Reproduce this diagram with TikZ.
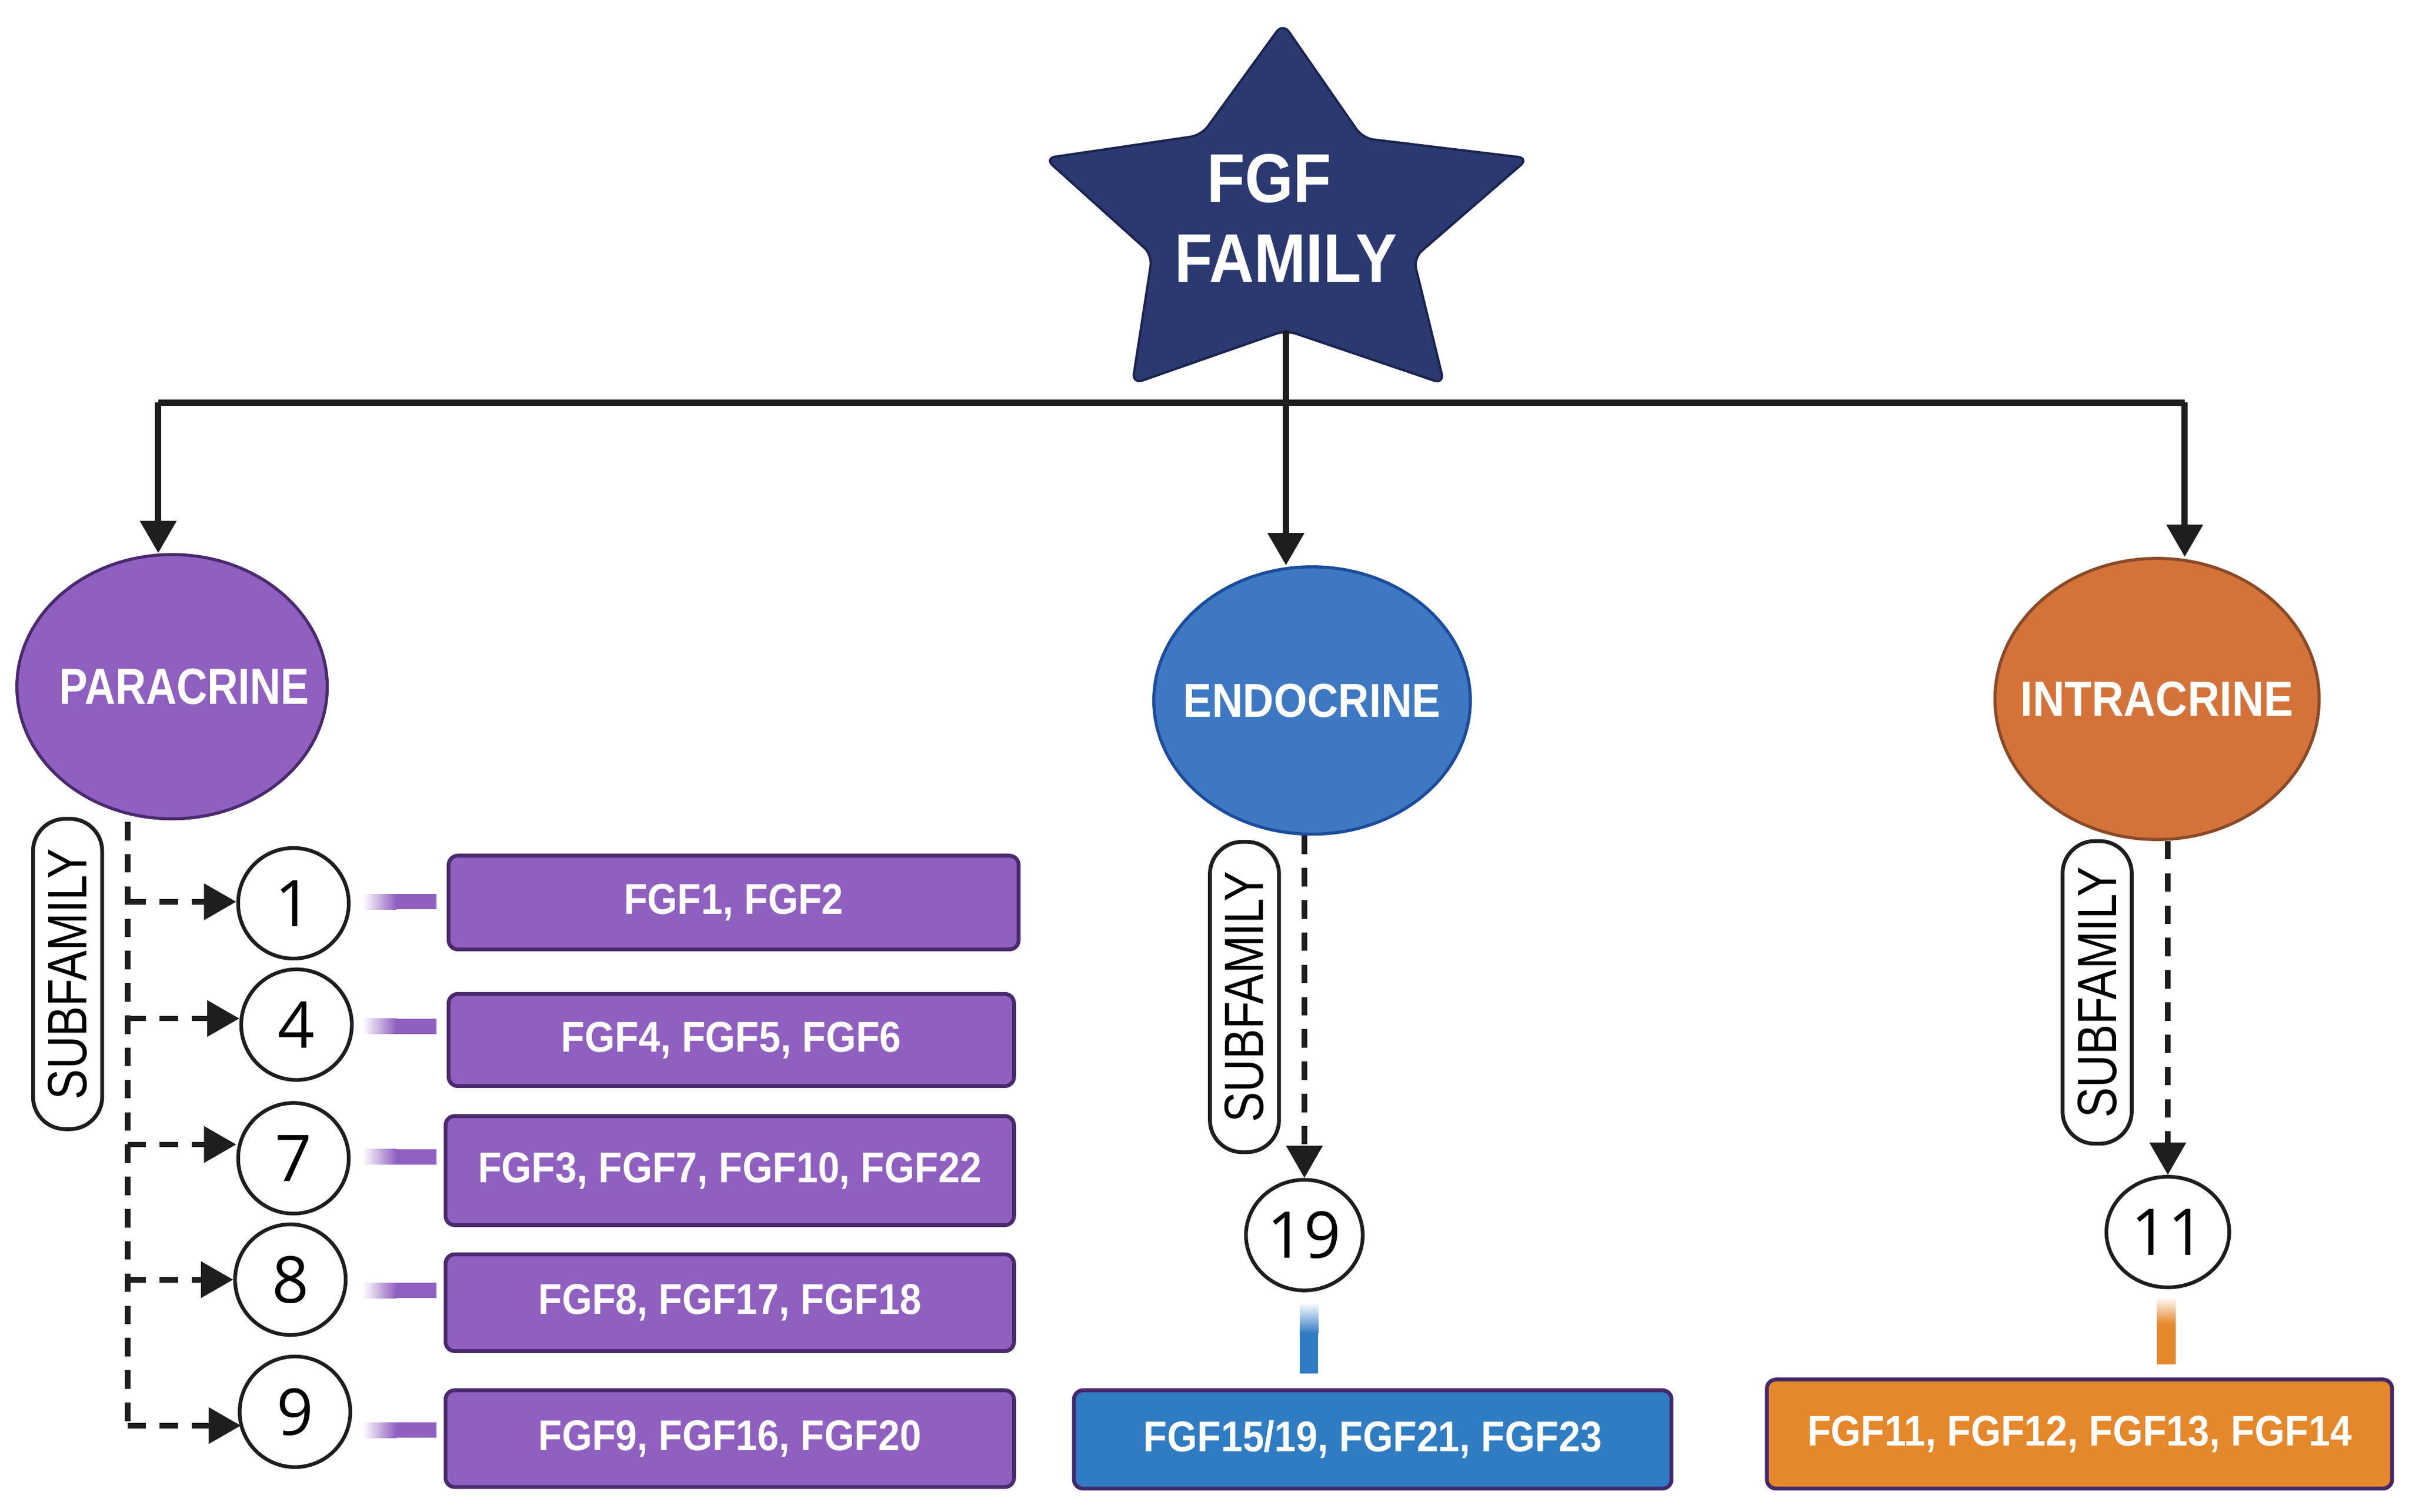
\documentclass[tikz,border=0pt]{standalone}
\usepackage{fontspec}
\setmainfont{Liberation Sans}
\newfontfamily\labA[FakeStretch=0.9]{Liberation Sans}
\newfontfamily\labP[FakeStretch=0.84]{Liberation Sans}
\newfontfamily\labS[FakeStretch=0.82]{Liberation Sans}
\newfontfamily\digfont{Open Sans}
\usetikzlibrary{arrows.meta,shapes.geometric,calc}
\definecolor{navy}{HTML}{2B3970}
\definecolor{navyd}{HTML}{1A2450}
\definecolor{ppl}{HTML}{8F60BF}
\definecolor{ppld}{HTML}{4A2A6E}
\definecolor{blu}{HTML}{3E78C2}
\definecolor{blud}{HTML}{1D4C9C}
\definecolor{bbox}{HTML}{2F7CC3}
\definecolor{org}{HTML}{D3733A}
\definecolor{orgd}{HTML}{8A4A28}
\definecolor{obox}{HTML}{E5872B}
\definecolor{boxd}{HTML}{44286C}
\definecolor{lk}{HTML}{1E1E1E}
\tikzset{
  mainline/.style={draw=lk, line width=4pt},
  mainarr/.style={mainline, -{Triangle[width=23pt,length=21pt]}},
  dashline/.style={draw=lk, line width=3.6pt, dash pattern=on 12pt off 9pt},
  dasharr/.style={dashline, -{Triangle[width=23pt,length=21pt]}},
  ell/.style={ellipse, inner sep=0pt, line width=2pt, text=white},
  pill/.style={draw=lk, fill=white, line width=2.5pt, rounded corners=21pt, rotate=90,
    inner sep=0pt, minimum height=45pt, font=\labS\fontsize{36}{36}\selectfont},
  numc/.style={ellipse, draw=lk, fill=white, line width=2.4pt, inner sep=0pt,
    font=\digfont\fontsize{42}{42}\selectfont},
  fbox/.style={rectangle, rounded corners=6pt, line width=2.5pt, draw=boxd, text=white,
    inner sep=0pt, font=\labA\bfseries\fontsize{28}{28}\selectfont},
  pbox/.style={fbox, fill=ppl, draw=ppld}
}
\begin{document}
\begin{tikzpicture}[x=1pt,y=-1pt,line join=round]
\useasboundingbox (0,0) rectangle (1568,984);
\fill[white] (0,0) rectangle (1568,984);

% star
\filldraw[fill=navy, draw=navyd, line width=1.5pt, rounded corners=7pt]
  (835,15) -- (887,90) -- (995,103) -- (920,168) -- (940,250) -- (837,215)
  -- (737,250) -- (750,166) -- (680,103) -- (782,88) -- cycle;
\node[text=white, align=center, font=\labA\bfseries\fontsize{45}{52}\selectfont] (fgf) at (837,142)
  {FGF\hspace*{22pt}\\FAMILY};
\coordinate (starb) at (837,215);

% ellipses
\node[ell, fill=ppl, draw=ppld, minimum width=202pt, minimum height=172pt,
  font=\labP\bfseries\fontsize{33}{33}\selectfont] (para) at (112,447) {\makebox[0pt]{\hspace*{16pt}PARACRINE}};
\node[ell, fill=blu, draw=blud, minimum width=206pt, minimum height=174pt,
  font=\labA\bfseries\fontsize{31}{31}\selectfont] (endo) at (854,456) {\makebox[0pt]{ENDOCRINE}};
\node[ell, fill=org, draw=orgd, minimum width=211pt, minimum height=183pt,
  font=\labA\bfseries\fontsize{32}{32}\selectfont] (intra) at (1404,455) {\makebox[0pt]{INTRACRINE}};

% main connectors
\coordinate (hl) at (103,262);
\coordinate (hr) at (1422,262);
\draw[mainline] (hl) -- (hr);
\draw[mainarr] (hl) -- (hl |- para.north);
\draw[mainarr] (hr) -- (hr |- intra.north);
\draw[mainarr] (starb) -- (starb |- endo.north);

% subfamily pills
\node[pill, minimum width=202pt] (sp) at (44,634) {SUBFAMILY};
\node[pill, minimum width=202pt] (se) at (810,649) {SUBFAMILY};
\node[pill, minimum width=197pt] (si) at (1365,646) {SUBFAMILY};

% paracrine circles
\node[numc, minimum width=72pt, minimum height=72pt] (c1) at (191,588) {1};
\node[numc, minimum width=72pt, minimum height=72pt] (c4) at (193,667) {4};
\node[numc, minimum width=72pt, minimum height=72pt] (c7) at (191,754) {7};
\node[numc, minimum width=72pt, minimum height=72pt] (c8) at (189,833) {8};
\node[numc, minimum width=72pt, minimum height=72pt] (c9) at (192,919) {9};

% paracrine dashed tree
\coordinate (pt) at (83,535);
\coordinate (b1) at (83,587);
\coordinate (b4) at (83,663);
\coordinate (b7) at (83,745);
\coordinate (b8) at (83,833);
\coordinate (b9) at (83,928);
\draw[dashline] (pt) -- (b9);
\draw[dasharr] (b1) -- (b1 -| c1.west);
\draw[dasharr] (b4) -- (b4 -| c4.west);
\draw[dasharr] (b7) -- (b7 -| c7.west);
\draw[dasharr] (b8) -- (b8 -| c8.west);
\draw[dasharr] (b9) -- ([xshift=2pt]b9 -| c9.west);

% paracrine boxes
\node[pbox, minimum width=371pt, minimum height=61pt] (f1) at (477.5,587.5) {FGF1, FGF2};
\node[pbox, minimum width=368pt, minimum height=60pt] (f4) at (476,677) {FGF4, FGF5, FGF6};
\node[pbox, minimum width=370pt, minimum height=71pt] (f7) at (475,762) {FGF3, FGF7, FGF10, FGF22};
\node[pbox, minimum width=370pt, minimum height=63pt] (f8) at (475,848) {FGF8, FGF17, FGF18};
\node[pbox, minimum width=370pt, minimum height=63pt] (f9) at (475,936.5) {FGF9, FGF16, FGF20};

% paracrine bars
\foreach \yy in {587,668,753,840,931}{
  \shade[left color=white, right color=ppl] (236,\yy-5) rectangle (258,\yy+5);
  \fill[ppl] (258,\yy-5) rectangle (284,\yy+5);
}

% endocrine
\node[numc, minimum width=76pt, minimum height=72pt] (c19) at (849,804) {19};
\draw[dasharr] (c19 |- endo.south) -- (c19.north);
\shade[top color=white, bottom color=bbox] (846,848) rectangle (858,868);
\fill[bbox] (846,868) rectangle (858,894);
\node[fbox, fill=bbox, minimum width=389pt, minimum height=64pt] (fe) at (893.5,937) {FGF15/19, FGF21, FGF23};

% intracrine
\node[numc, minimum width=80pt, minimum height=72pt] (c11) at (1411,802) {11};
\draw[dasharr] (c11 |- intra.south) -- (c11.north);
\shade[top color=white, bottom color=obox] (1404,844) rectangle (1416,862);
\fill[obox] (1404,862) rectangle (1416,888);
\node[fbox, fill=obox, minimum width=407pt, minimum height=71pt] (fi) at (1353.5,933.5) {FGF11, FGF12, FGF13, FGF14};
\end{tikzpicture}
\end{document}
